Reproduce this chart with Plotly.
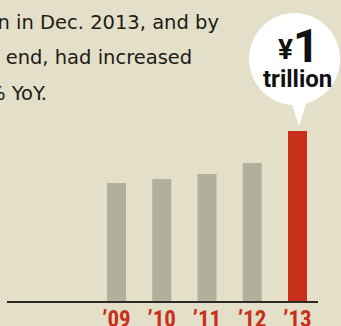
import plotly.graph_objects as go

# Sales by fiscal year, in trillions of yen
years = [2009, 2010, 2011, 2012, 2013]
tick_labels = ["\u201909", "\u201910", "\u201911", "\u201912", "\u201913"]
sales_trillion = [0.694, 0.718, 0.747, 0.812, 1.0]

BG = "#E3DFC8"
GREY = "#B1B09A"
RED = "#C9301C"
INK = "#1E1B16"

W, H = 341, 326
M_L, M_R, M_T, M_B = 7, 23, 0, 25
PLOT_W = W - M_L - M_R
PLOT_H = H - M_T - M_B


def px_x(px):
    return (px - M_L) / PLOT_W


def px_y(py):
    return (H - M_B - py) / PLOT_H


bar_colors = [GREY] * (len(years) - 1) + [RED]

fig = go.Figure(
    go.Bar(
        x=years,
        y=sales_trillion,
        width=0.42,
        marker=dict(color=bar_colors, line=dict(width=0)),
        hoverinfo="skip",
    )
)

# speech bubble over the latest year
shapes = [
    dict(type="circle", xref="paper", yref="paper",
         x0=px_x(249), x1=px_x(340), y0=px_y(105), y1=px_y(13),
         fillcolor="white", line=dict(width=0), layer="above"),
    dict(type="path", xref="paper", yref="paper",
         path=f"M {px_x(289)},{px_y(95)} L {px_x(299)},{px_y(126)} L {px_x(309)},{px_y(95)} Z",
         fillcolor="white", line=dict(width=0), layer="above"),
]

body_font = dict(family="DejaVu Sans", size=19.5, color=INK)
annotations = [
    dict(text="reached \u00a51 trillion in Dec. 2013, and by", x=px_x(221), y=px_y(22.5),
         xanchor="right", yanchor="middle", showarrow=False, font=body_font,
         xref="paper", yref="paper"),
    dict(text="the fiscal year end, had increased", x=px_x(194), y=px_y(57.5),
         xanchor="right", yanchor="middle", showarrow=False, font=body_font,
         xref="paper", yref="paper"),
    dict(text="by 26% YoY.", x=px_x(49), y=px_y(93.5),
         xanchor="right", yanchor="middle", showarrow=False, font=body_font,
         xref="paper", yref="paper"),
    dict(text="\u00a5", x=px_x(285), y=px_y(50),
         xanchor="center", yanchor="middle", showarrow=False,
         font=dict(family="Roboto", size=28, color="#111111", weight="bold"),
         xref="paper", yref="paper"),
    dict(text=f"{sales_trillion[-1]:g}", x=px_x(305.5), y=px_y(45.5),
         xanchor="center", yanchor="middle", showarrow=False, height=36,
         font=dict(family="Roboto", size=46, color="#111111", weight="bold"),
         xref="paper", yref="paper"),
    dict(text="trillion", x=px_x(297.5), y=px_y(78.5),
         xanchor="center", yanchor="middle", showarrow=False,
         font=dict(family="Roboto", size=24, color="#111111", weight="bold"),
         xref="paper", yref="paper"),
]

fig.update_layout(
    width=W, height=H,
    margin=dict(l=M_L, r=M_R, t=M_T, b=M_B, pad=0, autoexpand=False),
    paper_bgcolor=BG, plot_bgcolor=BG,
    showlegend=False,
    shapes=shapes,
    annotations=annotations,
    xaxis=dict(
        range=[2006.58, 2013.453],
        tickvals=years, ticktext=tick_labels,
        showgrid=False, zeroline=False, ticks="",
        showline=True, linecolor="#2B2A26", linewidth=1.5,
        automargin=False, ticklabelstandoff=-3,
        tickfont=dict(family="Liberation Sans Narrow, Roboto Condensed, DejaVu Sans Condensed, Roboto",
                      size=23, color=RED, weight="bold"),
        fixedrange=True,
    ),
    yaxis=dict(range=[0, PLOT_H / 170], visible=False, fixedrange=True, automargin=False),
)

fig.write_html("out.html", config={"displayModeBar": False})
